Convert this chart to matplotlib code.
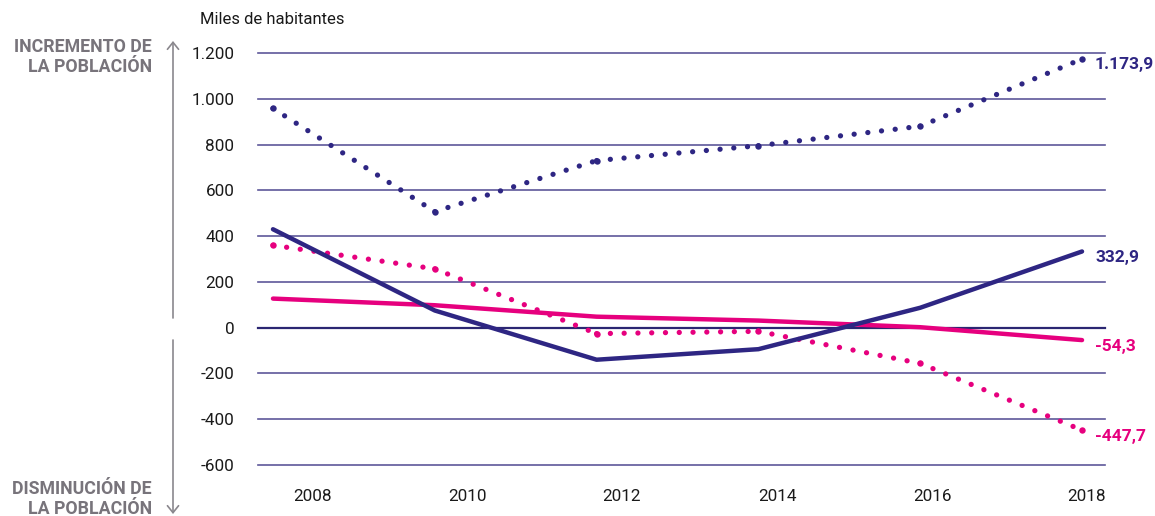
import matplotlib
matplotlib.use("Agg")
import matplotlib.pyplot as plt

plt.rcParams['font.family'] = ['Roboto', 'DejaVu Sans']

years = [2008, 2010, 2012, 2014, 2016, 2018]
purple_dotted = [958, 507, 730, 795, 880, 1173.9]
purple_solid = [430, 75, -140, -94, 87, 332.9]
pink_solid = [127, 98, 48, 31, 2, -54.3]
pink_dotted = [360, 257, -26, -16, -156, -447.7]

tick_labels = ['2008', '2010', '2012', '2014', '2016', '2018']
tick_pos = [2008.49, 2010.40, 2012.31, 2014.23, 2016.15, 2018.05]
y_ticks = list(range(-600, 1201, 200))

PURPLE = '#2e2683'
PINK = '#e6007e'
GRID = '#5e589a'
GREY = '#78747b'


def fmt(v):
    s = f"{abs(v):,.0f}".replace(',', '.')
    return ('-' if v < 0 else '') + s


def dotted(ax, xs, ys, color):
    # each segment restarts the dot pattern, with a dot on every vertex
    for i in range(len(xs) - 1):
        ax.plot(xs[i:i + 2], ys[i:i + 2], color=color, lw=3.8, dashes=(0.01, 2.6),
                dash_capstyle='round', zorder=3)
    ax.plot(xs, ys, ls='none', marker='o', ms=4.6, mew=0, color=color, zorder=3)


fig = plt.figure(figsize=(11.55, 5.16), dpi=100)
ax = fig.add_axes([258 / 1155, 1 - 465 / 516, 847 / 1155, 412 / 516])
ax.set_xlim(2007.815, 2018.284)
ax.set_ylim(-600, 1200)

for y in y_ticks:
    if y == 0:
        ax.axhline(y, color='#2b2672', lw=1.6, zorder=1, clip_on=False)
    else:
        ax.axhline(y, color=GRID, lw=1.2, zorder=1, clip_on=False)

dotted(ax, years, purple_dotted, PURPLE)
dotted(ax, years, pink_dotted, PINK)
ax.plot(years, pink_solid, color=PINK, lw=3.2, solid_capstyle='round', zorder=3)
ax.plot(years, purple_solid, color=PURPLE, lw=3.2, solid_capstyle='round', zorder=4)

end_labels = [
    (purple_dotted, PURPLE, '1.173,9'),
    (purple_solid, PURPLE, '332,9'),
    (pink_solid, PINK, '-54,3'),
    (pink_dotted, PINK, '-447,7'),
]
for series, col, txt in end_labels:
    ax.annotate(txt, (years[-1], series[-1]), xytext=(13, -6),
                textcoords='offset pixels', ha='left', va='center',
                fontsize=12.5, fontweight='bold', color=col)

for spine in ax.spines.values():
    spine.set_visible(False)
ax.set_yticks(y_ticks)
ax.set_yticklabels([fmt(v) for v in y_ticks])
ax.set_xticks(tick_pos)
ax.set_xticklabels(tick_labels)
ax.tick_params(axis='y', length=0, pad=17, labelsize=12.3, labelcolor='#1a1a1a')
ax.tick_params(axis='x', length=0, pad=17, labelsize=12.3, labelcolor='#1a1a1a')

fig.text(200 / 1155, 1 - 20 / 516, 'Miles de habitantes', fontsize=12,
         color='#1a1a1a', ha='left', va='center')

# left direction arrows
x_arrow = 173 / 1155
fig.add_artist(matplotlib.patches.FancyArrowPatch(
    (x_arrow, 1 - 318 / 516), (x_arrow, 1 - 41 / 516), transform=fig.transFigure,
    arrowstyle='->,head_length=5,head_width=4', color='#8a878d', lw=1.2,
    mutation_scale=1, shrinkA=0, shrinkB=0))
fig.add_artist(matplotlib.patches.FancyArrowPatch(
    (x_arrow, 1 - 340 / 516), (x_arrow, 1 - 514 / 516), transform=fig.transFigure,
    arrowstyle='->,head_length=5,head_width=4', color='#8a878d', lw=1.2,
    mutation_scale=1, shrinkA=0, shrinkB=0))

fig.text(152 / 1155, 1 - 57 / 516, 'INCREMENTO DE\nLA POBLACIÓN', fontsize=12.8,
         fontweight='bold', color=GREY, ha='right', va='center', linespacing=1.1,
         multialignment='right')
fig.text(152 / 1155, 1 - 499 / 516, 'DISMINUCIÓN DE\nLA POBLACIÓN', fontsize=12.8,
         fontweight='bold', color=GREY, ha='right', va='center', linespacing=1.1,
         multialignment='right')

fig.savefig('out.png', dpi=100)
